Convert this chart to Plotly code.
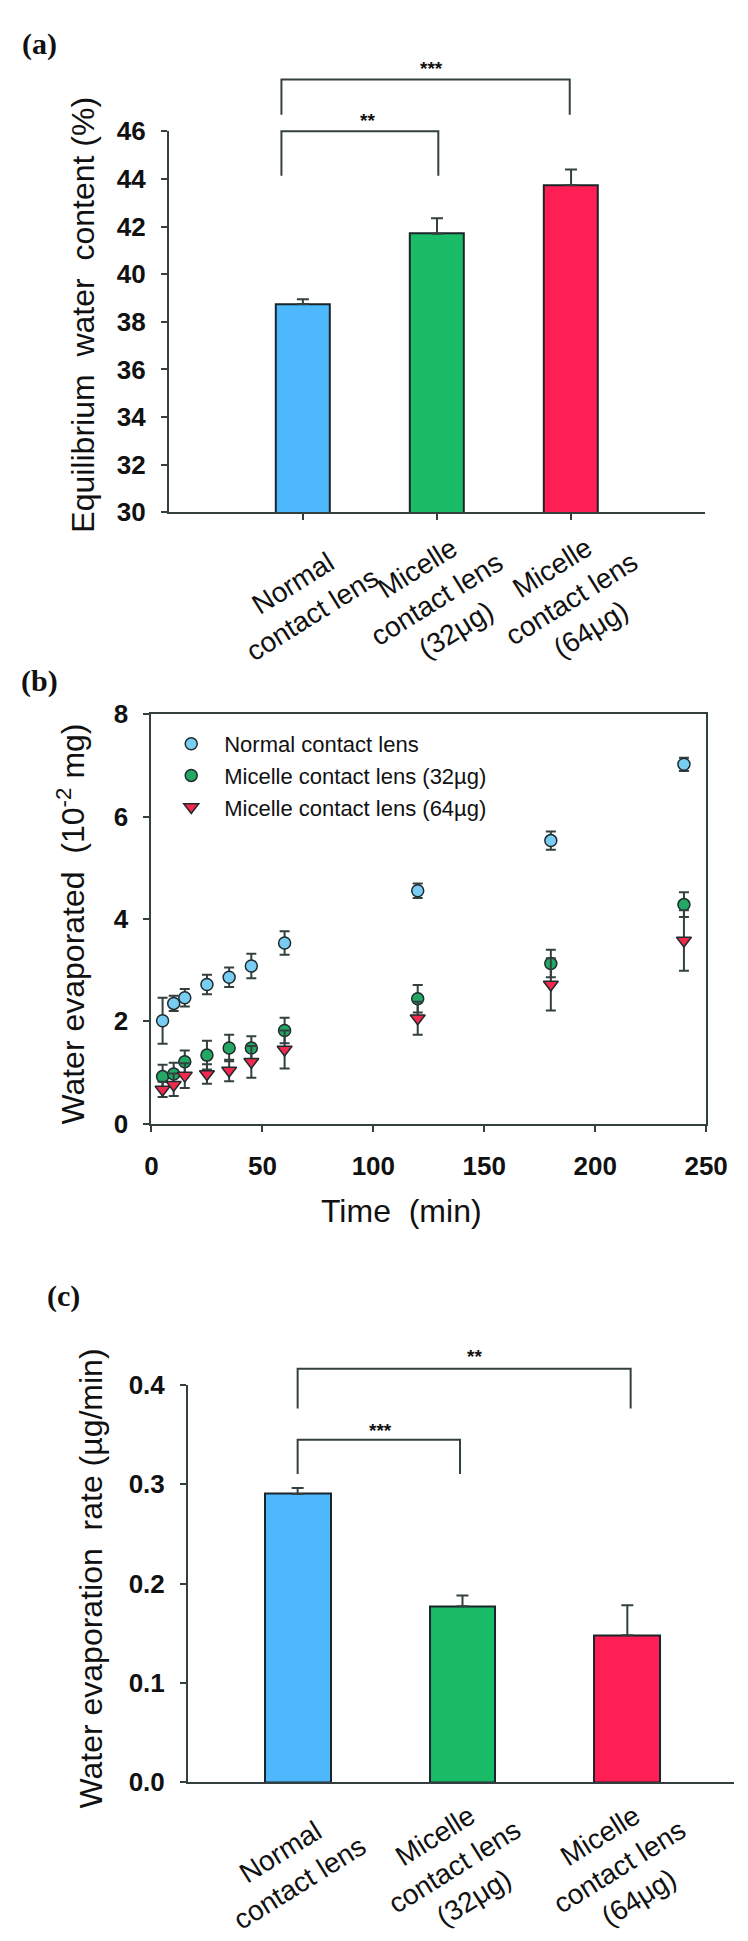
import plotly.graph_objects as go

# ---------------- data ----------------
cat_labels = ["Normal<br>contact lens",
              "Micelle<br>contact lens<br>(32μg)",
              "Micelle<br>contact lens<br>(64μg)"]
cat_idx = [0, 1, 2]
bar_colors = ["#4DB8FB", "#1BBC68", "#FF1F55"]

# (a) equilibrium water content (%)
ewc = [38.75, 41.7, 43.75]
ewc_err = [0.2, 0.65, 0.65]

# (b) water evaporated (10^-2 mg) vs time (min)
time_min = [5, 10, 15, 25, 35, 45, 60, 120, 180, 240]
evap_normal = [2.01, 2.35, 2.46, 2.72, 2.86, 3.08, 3.53, 4.55, 5.53, 7.02]
evap_normal_err = [0.45, 0.15, 0.17, 0.19, 0.19, 0.24, 0.23, 0.14, 0.18, 0.13]
evap_32 = [0.92, 0.97, 1.21, 1.34, 1.48, 1.48, 1.82, 2.44, 3.13, 4.28]
evap_32_err = [0.23, 0.22, 0.22, 0.28, 0.26, 0.23, 0.25, 0.27, 0.27, 0.24]
evap_64 = [0.67, 0.76, 0.94, 0.97, 1.04, 1.21, 1.45, 2.06, 2.72, 3.58]
evap_64_err = [0.15, 0.22, 0.24, 0.19, 0.21, 0.31, 0.37, 0.32, 0.51, 0.59]
series_names = ["Normal contact lens", "Micelle contact lens (32µg)", "Micelle contact lens (64µg)"]

# (c) water evaporation rate (µg/min)
rate = [0.29, 0.177, 0.148]
rate_err = [0.006, 0.011, 0.030]

# ---------------- layout constants ----------------
W, H = 748, 1941
FONT = "Liberation Sans, Arial, sans-serif"
LINE = "#33403f"
INK = "#111111"

def px_x(p):
    return p / W

def px_y(p):
    return 1 - p / H

fig = go.Figure()

# (a) bars
fig.add_trace(go.Bar(
    x=cat_idx, y=ewc, width=0.40, marker=dict(color=bar_colors, line=dict(color="#1b2529", width=2)),
    error_y=dict(type="data", array=ewc_err, arrayminus=[0, 0, 0], symmetric=False,
                 color=LINE, thickness=2, width=6),
    xaxis="x", yaxis="y", showlegend=False))

# (b) scatter with error bars
b_specs = [
    (evap_normal, evap_normal_err, "circle", "#79CDF3", 12),
    (evap_32, evap_32_err, "circle", "#22A862", 12),
    (evap_64, evap_64_err, "triangle-down", "#F2294C", 13),
]
for (vals, errs, sym, col, sz), name in zip(b_specs, series_names):
    fig.add_trace(go.Scatter(
        x=time_min, y=vals, mode="markers", name=name,
        marker=dict(symbol=sym, color=col, size=sz, line=dict(color="#1f2a2e", width=1.5)),
        error_y=dict(type="data", array=errs, color=LINE, thickness=2, width=5),
        xaxis="x2", yaxis="y2", showlegend=True))

# (c) bars
fig.add_trace(go.Bar(
    x=cat_idx, y=rate, width=0.40, marker=dict(color=bar_colors, line=dict(color="#1b2529", width=2)),
    error_y=dict(type="data", array=rate_err, arrayminus=[0, 0, 0], symmetric=False,
                 color=LINE, thickness=2, width=6),
    xaxis="x3", yaxis="y3", showlegend=False))

tickfont = dict(family=FONT, size=26, color=INK, weight="bold")
common = dict(showgrid=False, zeroline=False, showline=True, linecolor=LINE, linewidth=2,
              ticks="outside", tickcolor=LINE, tickwidth=2, ticklen=6, tickfont=tickfont)

fig.update_layout(
    width=W, height=H, margin=dict(l=0, r=0, t=0, b=0),
    paper_bgcolor="white", plot_bgcolor="white",
    bargap=0,
    xaxis=dict(domain=[px_x(160), px_x(718)], range=[-1, 3], anchor="y",
               tickvals=cat_idx, showticklabels=False, **common),
    yaxis=dict(domain=[px_y(497), px_y(110)], range=[30, 46], dtick=2, anchor="x",
               ticklabelstandoff=10, **common),
    xaxis2=dict(domain=[px_x(142), px_x(719)], range=[0, 250], dtick=50, anchor="y2",
                mirror=True, ticklabelstandoff=12, **common),
    yaxis2=dict(domain=[px_y(1118), px_y(702)], range=[0, 8], dtick=2, anchor="x2",
                mirror=True, ticklabelstandoff=10, **common),
    xaxis3=dict(domain=[px_x(180), 1.0], range=[-0.665, 2.647], anchor="y3",
                tickvals=cat_idx, showticklabels=False, **{**common, "ticks": ""}),
    yaxis3=dict(domain=[px_y(1787), px_y(1383)], range=[0, 0.4], dtick=0.1, tickformat=".1f",
                anchor="x3", ticklabelstandoff=10, **common),
    legend=dict(x=px_x(149), y=px_y(711), xanchor="left", yanchor="top",
                bgcolor="rgba(0,0,0,0)", itemwidth=56,
                font=dict(family=FONT, size=22, color=INK), tracegroupgap=0),
)

shapes = []
annotations = []

def note(**kw):
    kw.setdefault("showarrow", False)
    kw.setdefault("xanchor", "center")
    kw.setdefault("yanchor", "middle")
    annotations.append(kw)

def bracket(xa, ya, x0, x1, ytop, ybot, rng):
    lo, hi = rng
    f = lambda v: (v - lo) / (hi - lo)
    shapes.append(dict(type="path", xref=xa, yref=ya + " domain",
                       path=f"M {x0},{f(ybot)} L {x0},{f(ytop)} L {x1},{f(ytop)} L {x1},{f(ybot)}",
                       line=dict(color=LINE, width=2)))

def stars(xa, ya, x, yv, text, rng):
    lo, hi = rng
    note(xref=xa, yref=ya + " domain", x=x, y=(yv - lo) / (hi - lo), text=text,
         font=dict(family=FONT, size=19, color=INK, weight="bold"))

# (a) significance brackets
bracket("x", "y", -0.16, 1.01, 46.0, 44.13, (30, 46))
bracket("x", "y", -0.16, 1.99, 48.18, 46.70, (30, 46))
stars("x", "y", 0.48, 46.45, "**", (30, 46))
stars("x", "y", 0.96, 48.65, "***", (30, 46))

# (c) significance brackets
bracket("x3", "y3", 0.0, 0.985, 0.3446, 0.31, (0, 0.4))
bracket("x3", "y3", 0.0, 2.02, 0.416, 0.376, (0, 0.4))
stars("x3", "y3", 0.50, 0.354, "***", (0, 0.4))
stars("x3", "y3", 1.07, 0.428, "**", (0, 0.4))

# category labels (rotated, centred blocks)
lab_font = dict(family=FONT, size=28, color=INK)
for i, lab in zip(cat_idx, cat_labels):
    note(xref="x", yref="paper", x=i, y=px_y(585), text=lab, textangle=-32,
         align="center", font=lab_font)
    note(xref="x3", yref="paper", x=i - 0.05, y=px_y(1873), text=lab, textangle=-32,
         align="center", font=lab_font)

# axis titles
title_font = dict(family=FONT, size=32, color=INK)
note(xref="paper", yref="paper", x=px_x(71), y=px_y(296),
     text="Equilibrium  water  content (%)", textangle=-90, font=title_font)
note(xref="paper", yref="paper", x=px_x(58), y=px_y(915),
     text="Water evaporated  (10<sup>-2</sup> mg)", textangle=-90, font=title_font)
note(xref="paper", yref="paper", x=px_x(402), y=px_y(1207), text="Time  (min)", font=title_font)
note(xref="paper", yref="paper", x=px_x(79), y=px_y(1580),
     text="Water evaporation  rate (µg/min)", textangle=-90, font=title_font)

# panel letters
pl_font = dict(family="Liberation Serif, Times New Roman, serif", size=30, color=INK, weight="bold")
for txt, cx, cy in [("(a)", 26, 21), ("(b)", 25, 668), ("(c)", 50, 1293)]:
    note(xref="paper", yref="paper", x=px_x(cx), y=px_y(cy), text=txt, font=pl_font)

fig.update_layout(shapes=shapes, annotations=annotations)
fig.write_html("out.html")
